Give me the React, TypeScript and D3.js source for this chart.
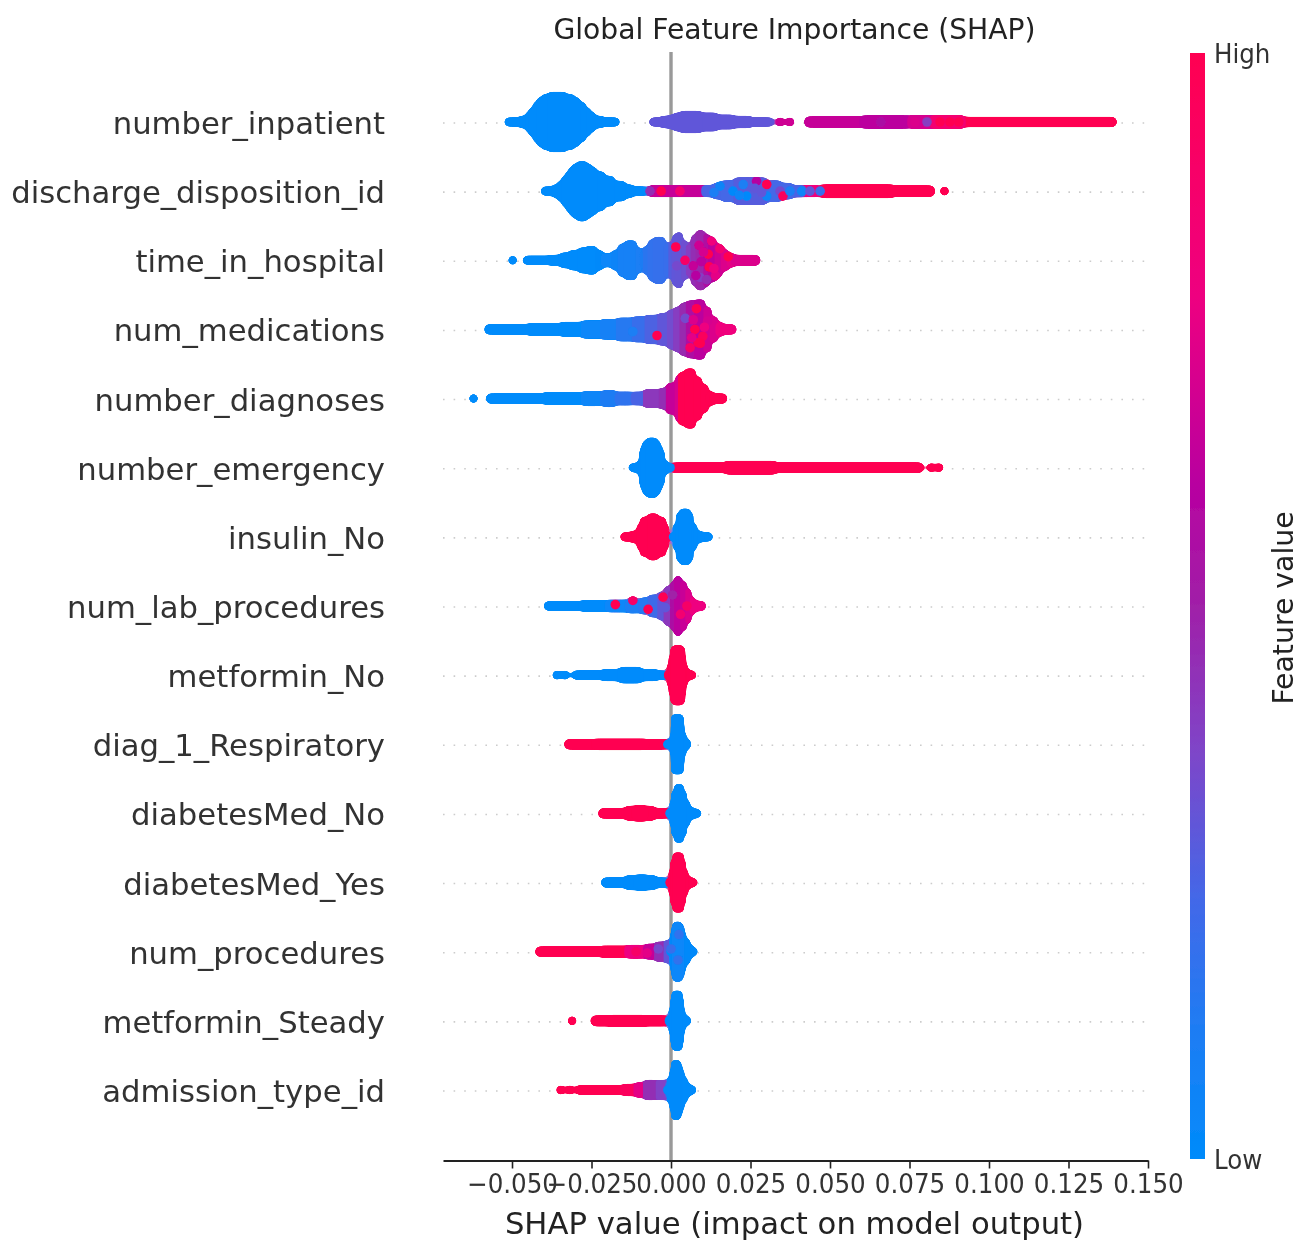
import React, { useEffect, useRef } from "react";
import * as d3 from "d3";

// band = [shap from, shap to, spread (0 = one dot thick, 1 = full row jitter), feature value 0..1]
type Band = [number, number, number, number];
// speck = single dot painted on top: [shap, offset in row jitter -1..1, feature value]
type Speck = [number, number, number];

const features = [
  "number_inpatient", "discharge_disposition_id", "time_in_hospital", "num_medications",
  "number_diagnoses", "number_emergency", "insulin_No", "num_lab_procedures", "metformin_No",
  "diag_1_Respiratory", "diabetesMed_No", "diabetesMed_Yes", "num_procedures",
  "metformin_Steady", "admission_type_id",
];
const xTicks = [-0.05, -0.025, 0, 0.025, 0.05, 0.075, 0.1, 0.125, 0.15];

const colorStops = [0, 0.12, 0.235, 0.37, 0.5, 0.61, 0.78, 1];
const colorValues = ["#008bfb", "#1f7cf3", "#4368e8", "#7f45c8", "#a020a8", "#b800a0", "#ee0080", "#ff0051"];

const inpatientBands: Band[] = [
  [-0.051, -0.0175, 0, 0], [-0.0475, -0.0215, 0.05, 0], [-0.0455, -0.024, 0.2, 0], [-0.0445, -0.0255, 0.35, 0],
  [-0.0432, -0.027, 0.55, 0], [-0.042, -0.0288, 0.72, 0], [-0.0405, -0.0305, 0.84, 0], [-0.0385, -0.033, 0.92, 0],
  [-0.0055, 0.031, 0, 0.3], [-0.003, 0.025, 0.05, 0.3], [-0.001, 0.02, 0.1, 0.3], [0.001, 0.0145, 0.17, 0.3], [0.003, 0.0095, 0.23, 0.3],
  [0.0343, 0.0343, 0, 0.68], [0.0374, 0.0374, 0, 0.68],
  [0.043, 0.06, 0.03, 0.65], [0.06, 0.075, 0.07, 0.62], [0.075, 0.092, 0.08, 0.7],
  [0.09, 0.139, 0.02, 1], [0.082, 0.092, 0.08, 0.85],
];
const inpatientSpecks: Speck[] = [
  [0.066, 0, 0.55], [0.0767, 0, 0.72], [0.0805, 0, 0.4], [0.0846, 0, 1], [0.0877, 0, 1], [0.0905, 0, 1],
];

const dischargeBands: Band[] = [
  [-0.0396, -0.0085, 0, 0], [-0.037, -0.012, 0.08, 0], [-0.0355, -0.0145, 0.2, 0], [-0.0342, -0.018, 0.38, 0],
  [-0.033, -0.021, 0.55, 0], [-0.032, -0.0235, 0.7, 0], [-0.031, -0.025, 0.82, 0], [-0.0295, -0.0265, 0.92, 0],
  [-0.0065, 0.0105, 0.05, 0.65],
  [0.037, 0.0465, 0.05, 0.8],
  [0.0105, 0.0415, 0.05, 0.25], [0.013, 0.0385, 0.13, 0.24], [0.016, 0.0345, 0.22, 0.24], [0.02, 0.03, 0.33, 0.28],
  [0.047, 0.082, 0.04, 1], [0.047, 0.07, 0.08, 1], [0.086, 0.086, 0, 1],
];
const dischargeSpecks: Speck[] = [
  [-0.0066, 0, 0.45], [-0.0031, 0, 1], [0.0028, 0, 0.85], [0.0195, 0, 0.02], [0.0238, 0.18, 0.02],
  [0.0269, -0.36, 0.6], [0.0264, -0.1, 0.3], [0.0301, -0.24, 1], [0.0301, 0.18, 0.05], [0.0343, 0, 0.35],
  [0.0352, 0.18, 0.95], [0.0154, -0.18, 0.06], [0.0227, -0.24, 0.1], [0.0374, 0, 0.1], [0.0411, 0, 0.05],
  [0.0437, 0, 0.3], [0.0469, 0, 0.2], [0.0135, 0.05, 0.1], [0.0215, 0.15, 0.05], [0.0285, 0.05, 0.3],
];

const hospitalBands: Band[] = [
  [-0.0498, -0.0498, 0, 0], [-0.0453, -0.038, 0, 0], [-0.038, -0.035, 0.03, 0], [-0.035, -0.032, 0.12, 0],
  [-0.032, -0.029, 0.2, 0], [-0.029, -0.0265, 0.3, 0], [-0.0265, -0.0235, 0.35, 0], [-0.0235, -0.0215, 0.2, 0.02],
  [-0.0215, -0.0185, 0.08, 0.03], [-0.0185, -0.0165, 0.2, 0.06], [-0.0165, -0.0145, 0.42, 0.08], [-0.0145, -0.011, 0.55, 0.08],
  [-0.011, -0.0095, 0.3, 0.1], [-0.0095, -0.0085, 0.12, 0.12], [-0.0085, -0.007, 0.35, 0.16], [-0.007, -0.0055, 0.58, 0.18],
  [-0.0055, -0.002, 0.68, 0.19], [-0.002, -0.0005, 0.45, 0.2], [-0.0005, 0.0005, 0.5, 0.28], [0.0005, 0.0015, 0.75, 0.3],
  [0.0015, 0.0035, 0.85, 0.31], [0.0035, 0.005, 0.55, 0.33], [0.005, 0.0065, 0.4, 0.4], [0.0065, 0.008, 0.75, 0.45],
  [0.008, 0.0105, 0.92, 0.48], [0.0105, 0.012, 0.78, 0.58], [0.012, 0.014, 0.62, 0.62], [0.014, 0.016, 0.42, 0.68],
  [0.016, 0.018, 0.22, 0.72], [0.018, 0.02, 0.1, 0.75], [0.02, 0.027, 0.03, 0.72],
];
const hospitalSpecks: Speck[] = [
  [0.0015, -0.48, 1], [0.0088, -0.54, 0.68], [0.0117, -0.22, 1], [0.012, 0.24, 1], [0.018, -0.13, 1], [0.0044, 0, 0.9],
  [0.0091, 0.62, 0.4], [0.014, 0.56, 0.75], [0.0128, -0.7, 0.8], [0.0154, -0.42, 0.85], [0.007, 0.2, 0.65],
  [0.0018, 0.2, 0.35], [0.0112, 0.7, 0.45], [0.0095, 0.05, 0.62], [0.0135, 0.3, 0.78], [0.0102, -0.3, 0.7], [0.0078, 0.55, 0.6],
];

const medicationsBands: Band[] = [
  [-0.0575, -0.045, 0.02, 0], [-0.045, -0.035, 0.06, 0], [-0.035, -0.028, 0.1, 0], [-0.028, -0.022, 0.16, 0.03],
  [-0.022, -0.017, 0.2, 0.08], [-0.017, -0.012, 0.26, 0.14], [-0.012, -0.008, 0.3, 0.2], [-0.008, -0.004, 0.36, 0.26],
  [-0.004, -0.001, 0.42, 0.3], [-0.001, 0.001, 0.55, 0.34], [0.001, 0.003, 0.65, 0.4], [0.003, 0.005, 0.8, 0.47],
  [0.005, 0.0075, 0.88, 0.56], [0.0075, 0.0105, 0.92, 0.62], [0.0105, 0.0125, 0.65, 0.68], [0.0125, 0.0145, 0.3, 0.72],
  [0.0145, 0.0165, 0.1, 0.78], [0.0165, 0.0194, 0.02, 0.8],
];
const medicationsSpecks: Speck[] = [
  [-0.0044, 0.22, 1], [0.008, -0.75, 1], [0.0075, 0, 1], [0.0085, 0.48, 1], [0.006, 0.66, 0.9], [0.01, 0.25, 0.95],
  [0.0045, -0.4, 0.35], [0.0115, -0.3, 0.7], [-0.012, 0.08, 0.1], [0.0092, 0.5, 1], [0.0105, -0.08, 0.78], [0.0065, 0.3, 0.75],
  [0.007, -0.35, 0.72],
];

const diagnosesBands: Band[] = [
  [-0.0621, -0.0621, 0, 0], [-0.057, -0.04, 0.02, 0], [-0.04, -0.028, 0.06, 0], [-0.028, -0.022, 0.1, 0.04],
  [-0.022, -0.017, 0.14, 0.12], [-0.017, -0.012, 0.08, 0.17], [-0.012, -0.0085, 0.08, 0.25], [-0.0085, -0.0035, 0.17, 0.42],
  [-0.0035, -0.0013, 0.22, 0.45], [-0.0013, 0.0015, 0.4, 0.65], [0.0015, 0.0025, 0.65, 0.7], [0.0025, 0.0045, 0.8, 1],
  [0.0045, 0.0075, 0.92, 1], [0.0075, 0.0095, 0.62, 1], [0.0095, 0.0115, 0.35, 1], [0.0115, 0.0135, 0.1, 1], [0.0135, 0.0165, 0.02, 1],
];

const emergencyBands: Band[] = [
  [0.0008, 0.0783, 0.02, 1], [0.017, 0.033, 0.08, 1], [0.0818, 0.0818, 0, 1], [0.0843, 0.0843, 0, 1],
  [-0.012, -0.0003, 0, 0], [-0.0105, -0.001, 0.1, 0], [-0.0098, -0.0022, 0.45, 0], [-0.0094, -0.0028, 0.62, 0],
  [-0.0088, -0.0035, 0.8, 0], [-0.0077, -0.0044, 0.92, 0],
];

const insulinBands: Band[] = [
  [-0.0146, -0.001, 0, 1], [-0.0125, -0.001, 0.05, 1], [-0.0105, -0.001, 0.3, 1], [-0.0095, -0.0018, 0.55, 1], [-0.0072, -0.0041, 0.68, 1],
  [0.0008, 0.0118, 0, 0], [0.0008, 0.0095, 0.05, 0], [0.0008, 0.008, 0.3, 0], [0.0018, 0.0068, 0.7, 0], [0.0028, 0.006, 0.85, 0],
];

const labBands: Band[] = [
  [-0.0387, -0.028, 0.01, 0], [-0.028, -0.02, 0.04, 0], [-0.02, -0.014, 0.06, 0.03], [-0.014, -0.01, 0.1, 0.1],
  [-0.01, -0.007, 0.14, 0.14], [-0.007, -0.004, 0.24, 0.22], [-0.004, -0.002, 0.35, 0.3], [-0.002, 0, 0.55, 0.42],
  [0, 0.0012, 0.72, 0.55], [0.0012, 0.0032, 0.92, 0.62], [0.0032, 0.0048, 0.72, 0.66], [0.0048, 0.0062, 0.45, 0.72],
  [0.0062, 0.0075, 0.15, 0.78], [0.0075, 0.0098, 0.02, 0.78],
];
const labSpecks: Speck[] = [
  [-0.0175, -0.05, 1], [-0.0072, 0.12, 1], [-0.0025, -0.32, 1], [-0.012, -0.2, 0.9], [-0.0018, 0.06, 0.3],
  [0.0005, -0.4, 0.5], [0.003, 0.3, 0.85], [0.005, 0, 0.9],
];

const metforminNoBands: Band[] = [
  [-0.0359, -0.0359, 0, 0], [-0.0333, -0.0333, 0, 0], [-0.0299, -0.002, 0, 0], [-0.0215, -0.0045, 0.05, 0], [-0.0165, -0.009, 0.13, 0],
  [-0.0005, 0.0066, 0, 1], [-0.001, 0.0055, 0.03, 1], [-0.001, 0.005, 0.25, 1], [-0.0005, 0.0045, 0.55, 1], [0, 0.0042, 0.85, 1], [0.0005, 0.0038, 0.92, 1],
];

const respiratoryBands: Band[] = [
  [-0.0324, -0.0015, 0.02, 1], [-0.024, -0.008, 0.04, 1],
  [-0.001, 0.005, 0, 0], [-0.0005, 0.0052, 0.05, 0], [0, 0.0046, 0.25, 0], [0.0002, 0.004, 0.55, 0], [0.0003, 0.0038, 0.8, 0], [0.0003, 0.0037, 0.92, 0],
];

const medNoBands: Band[] = [
  [-0.0217, -0.001, 0.02, 1], [-0.0145, -0.005, 0.1, 1], [-0.012, -0.0075, 0.13, 1],
  [-0.0003, 0.0082, 0, 0], [-0.0005, 0.0072, 0.05, 0], [-0.0002, 0.0058, 0.3, 0], [0.0003, 0.0047, 0.65, 0], [0.0012, 0.0038, 0.9, 0],
];

const medYesBands: Band[] = [
  [-0.0208, -0.001, 0.02, 0], [-0.0145, -0.0045, 0.1, 0], [-0.0115, -0.007, 0.13, 0],
  [-0.0003, 0.007, 0, 1], [-0.0005, 0.0062, 0.05, 1], [-0.0005, 0.0052, 0.3, 1], [0, 0.0044, 0.65, 1], [0.0007, 0.0038, 0.92, 1],
];

const proceduresBands: Band[] = [
  [-0.0415, -0.015, 0.02, 1], [-0.022, -0.014, 0.05, 1], [-0.014, -0.0085, 0.08, 0.78], [-0.0085, -0.005, 0.12, 0.65],
  [-0.005, -0.002, 0.2, 0.45], [-0.002, 0, 0.25, 0.3],
  [0, 0.007, 0, 0.02], [-0.0003, 0.0068, 0.1, 0.02], [-0.0003, 0.0058, 0.3, 0.02], [0, 0.0045, 0.55, 0.02], [0.0004, 0.004, 0.78, 0.03], [0.0007, 0.0034, 0.92, 0.03],
];
const proceduresSpecks: Speck[] = [
  [-0.011, 0, 0.9], [-0.0075, 0.05, 0.75], [-0.004, -0.1, 0.35], [0.0025, -0.62, 0.18], [0.0022, 0.3, 0.18], [0, -0.1, 0.2],
];

const steadyBands: Band[] = [
  [-0.0311, -0.0311, 0, 1], [-0.0242, -0.0015, 0.03, 1], [-0.0195, -0.008, 0.05, 1],
  [-0.0005, 0.005, 0, 0], [-0.0008, 0.0048, 0.05, 0], [-0.0005, 0.0042, 0.3, 0], [0, 0.0038, 0.65, 0], [0.0004, 0.0034, 0.92, 0],
];

const admissionBands: Band[] = [
  [-0.0347, -0.0347, 0, 1], [-0.0318, -0.0318, 0, 1], [-0.0289, -0.015, 0.01, 1], [-0.015, -0.0115, 0.05, 0.95],
  [-0.0115, -0.0085, 0.12, 0.75], [-0.0085, -0.0045, 0.2, 0.45], [-0.0045, -0.0015, 0.2, 0.38], [-0.0015, -0.0005, 0.14, 0.2],
  [-0.001, 0.0066, 0, 0], [-0.0012, 0.006, 0.1, 0], [-0.001, 0.005, 0.3, 0], [-0.0003, 0.004, 0.55, 0], [0.0002, 0.0034, 0.75, 0.01], [0.0003, 0.0029, 0.92, 0.01],
];

const bandsByFeature: Band[][] = [
  inpatientBands, dischargeBands, hospitalBands, medicationsBands, diagnosesBands, emergencyBands, insulinBands, labBands,
  metforminNoBands, respiratoryBands, medNoBands, medYesBands, proceduresBands, steadyBands, admissionBands,
];
const specksByFeature: Speck[][] = [
  inpatientSpecks, dischargeSpecks, hospitalSpecks, medicationsSpecks, [], [], [], labSpecks, [], [], [], [], proceduresSpecks, [], [],
];

const WIDTH = 1299;
const HEIGHT = 1242;
const FONT = "DejaVu Sans";
const DOT_R = 4.8;

export default function App() {
  const ref = useRef<SVGSVGElement>(null);

  useEffect(() => {
    if (!ref.current) return;
    const root = d3.select(ref.current);
    root.selectAll("*").remove();

    const x = d3.scaleLinear().domain([-0.0717, 0.15]).range([443, 1148]);
    const y = d3.scalePoint<string>().domain(features).range([122, 1090]);
    const rowStep = y.step();
    const spread = d3.scaleLinear().domain([0, 1]).range([0, 0.4 * rowStep]);
    const color = d3.scaleLinear<string>().domain(colorStops).range(colorValues);
    // thin runs keep their round dot ends, tall columns only overlap their neighbours by a pixel
    const pad = (s: number) => Math.max(1, DOT_R * (1 - Math.min(1, s / 0.15)));

    const defs = root.append("defs");
    const soft = defs.append("filter").attr("id", "soft").attr("x", "0").attr("y", "0").attr("width", "1").attr("height", "1");
    soft.append("feGaussianBlur").attr("stdDeviation", 0.55);

    // rounds off the stepped outline of a swarm row
    const goo = defs.append("filter").attr("id", "goo").attr("filterUnits", "userSpaceOnUse")
      .attr("x", 0).attr("y", 0).attr("width", WIDTH).attr("height", HEIGHT);
    goo.append("feGaussianBlur").attr("in", "SourceGraphic").attr("stdDeviation", 2).attr("result", "b");
    goo.append("feColorMatrix").attr("in", "b").attr("type", "matrix")
      .attr("values", "1 0 0 0 0  0 1 0 0 0  0 0 1 0 0  0 0 0 10 -4.5").attr("result", "shape");
    goo.append("feComposite").attr("in", "SourceGraphic").attr("in2", "shape").attr("operator", "in").attr("result", "inner");
    const merge = goo.append("feMerge");
    merge.append("feMergeNode").attr("in", "shape");
    merge.append("feMergeNode").attr("in", "inner");

    const grad = defs.append("linearGradient").attr("id", "cbar").attr("x1", 0).attr("y1", 1).attr("x2", 0).attr("y2", 0);
    colorStops.forEach((s, i) => grad.append("stop").attr("offset", s).attr("stop-color", colorValues[i]));

    const svg = root.append("g").attr("filter", "url(#soft)");
    svg.append("rect").attr("width", WIDTH).attr("height", HEIGHT).attr("fill", "#fff");

    // dotted row guides
    svg.selectAll("line.guide").data(features).join("line")
      .attr("x1", x.range()[0]).attr("x2", x.range()[1])
      .attr("y1", (d) => y(d)! + 1).attr("y2", (d) => y(d)! + 1)
      .attr("stroke", "#cccccc").attr("stroke-width", 1.6).attr("stroke-dasharray", "1.6 9");

    // zero line
    svg.append("line").attr("x1", x(0)).attr("x2", x(0)).attr("y1", 52).attr("y2", 1160)
      .attr("stroke", "#999999").attr("stroke-width", 3.4);

    features.forEach((name, i) => {
      const cy = y(name)!;
      const row = svg.append("g").attr("filter", "url(#goo)");
      row.selectAll("rect").data(bandsByFeature[i]).join("rect")
        .attr("x", (d) => x(d[0]) - pad(d[2]))
        .attr("width", (d) => x(d[1]) - x(d[0]) + 2 * pad(d[2]))
        .attr("y", (d) => cy - spread(d[2]) - DOT_R)
        .attr("height", (d) => 2 * spread(d[2]) + 2 * DOT_R)
        .attr("rx", (d) => (d[2] >= 0.15 ? 3 : DOT_R))
        .attr("fill", (d) => color(d[3]));
      row.selectAll("circle").data(specksByFeature[i]).join("circle")
        .attr("cx", (d) => x(d[0]))
        .attr("cy", (d) => cy + d[1] * spread(1))
        .attr("r", DOT_R)
        .attr("fill", (d) => color(d[2]));
    });

    // feature labels
    svg.selectAll("text.feature").data(features).join("text")
      .attr("x", 385).attr("y", (d) => y(d)! + 1.5).attr("dy", "0.34em")
      .attr("text-anchor", "end").attr("font-family", FONT).attr("font-size", 30.7).attr("fill", "#333333")
      .text((d) => d);

    // x axis
    const axis = svg.append("g").attr("transform", "translate(0,1160.5)")
      .call(d3.axisBottom(x).tickValues(xTicks).tickSize(8).tickSizeOuter(0).tickFormat(d3.format(".3f") as any));
    axis.select(".domain").attr("stroke", "#222222").attr("stroke-width", 1.8);
    axis.selectAll(".tick line").attr("stroke", "#222222").attr("stroke-width", 1.6);
    axis.selectAll(".tick text").attr("font-family", FONT).attr("font-size", 27).attr("fill", "#333333")
      .attr("y", 13).attr("transform", "scale(0.91,1)");

    svg.append("text").attr("x", 794.5).attr("y", 1224).attr("dy", "0.34em").attr("text-anchor", "middle")
      .attr("font-family", FONT).attr("font-size", 30.7).attr("fill", "#222222")
      .text("SHAP value (impact on model output)");

    svg.append("text").attr("x", 794.5).attr("y", 29).attr("dy", "0.34em").attr("text-anchor", "middle")
      .attr("font-family", FONT).attr("font-size", 28.2).attr("fill", "#222222")
      .text("Global Feature Importance (SHAP)");

    // colour bar
    svg.append("rect").attr("x", 1190).attr("y", 53).attr("width", 15).attr("height", 1106).attr("fill", "url(#cbar)");
    svg.append("text").attr("transform", "translate(1214,54) scale(0.91,1)").attr("dy", "0.34em")
      .attr("font-family", FONT).attr("font-size", 27).attr("fill", "#333333").text("High");
    svg.append("text").attr("transform", "translate(1214,1160) scale(0.91,1)").attr("dy", "0.34em")
      .attr("font-family", FONT).attr("font-size", 27).attr("fill", "#333333").text("Low");
    svg.append("text").attr("transform", "translate(1283,608) rotate(-90)").attr("dy", "0.34em").attr("text-anchor", "middle")
      .attr("font-family", FONT).attr("font-size", 28.3).attr("fill", "#222222").text("Feature value");
  }, []);

  return <svg ref={ref} width={WIDTH} height={HEIGHT} style={{ position: "absolute", left: 0, top: 0, display: "block" }} />;
}
